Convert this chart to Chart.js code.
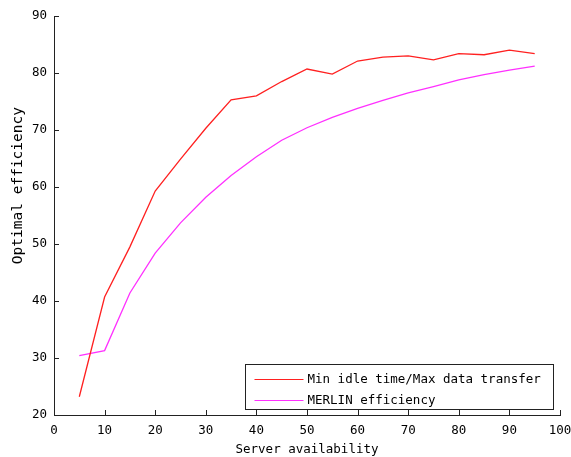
<!DOCTYPE html>
<html><head><meta charset="utf-8">
<script src="https://cdn.jsdelivr.net/npm/chart.js@4/dist/chart.umd.min.js"></script>
<style>html,body{margin:0;padding:0;background:#fff}#wrap{width:571px;height:457px}</style>
</head><body><div id="wrap"><canvas id="c"></canvas></div>
<script>
const xValues = [5,10,15,20,25,30,35,40,45,50,55,60,65,70,75,80,85,90,95];
const minIdle = [23.2,40.7,49.5,59.3,64.9,70.3,75.3,76.0,78.5,80.7,79.8,82.1,82.8,83.0,82.3,83.4,83.2,84.0,83.4];
const merlin  = [30.4,31.3,41.4,48.4,53.7,58.2,62.0,65.3,68.2,70.4,72.2,73.8,75.2,76.5,77.6,78.8,79.7,80.5,81.2];
const seriesNames = ['Min idle time/Max data transfer','MERLIN efficiency'];
const xTitle = 'Server availability';
const yTitle = 'Optimal efficiency';

const FONT = "'DejaVu Sans Mono', monospace";
const toPts = ys => xValues.map((x,i)=>({x:x,y:ys[i]}));

const innerTicks = {
  id:'innerTicks',
  afterDraw(chart){
    const ctx = chart.ctx, a = chart.chartArea;
    const xs = chart.scales.x, ys = chart.scales.y;
    ctx.save();
    ctx.strokeStyle = '#222'; ctx.lineWidth = 1;
    ctx.beginPath();
    xs.ticks.forEach(t=>{ const p = Math.round(xs.getPixelForValue(t.value))+0.5;
      ctx.moveTo(p, a.bottom); ctx.lineTo(p, a.bottom-5); });
    ys.ticks.forEach(t=>{ const p = Math.round(ys.getPixelForValue(t.value))+0.5;
      ctx.moveTo(a.left, p); ctx.lineTo(a.left+5, p); });
    ctx.stroke();
    // y axis title
    ctx.save();
    ctx.translate(18, a.top + (a.bottom - a.top) * 0.425);
    ctx.rotate(-Math.PI/2);
    ctx.font = "14.5px " + FONT; ctx.fillStyle = '#000';
    ctx.textAlign = 'center'; ctx.textBaseline = 'middle';
    ctx.fillText(yTitle, 0, 0);
    ctx.restore();
    // legend
    const ds = chart.data.datasets;
    ctx.font = "12.5px " + FONT;
    const tw = Math.max(...ds.map(d=>ctx.measureText(d.label).width));
    const bw = Math.round(tw + 75), bh = 45;
    const bx = Math.round(a.right - 7 - bw) + 0.5, by = Math.round(a.bottom - 6 - bh) + 0.5;
    ctx.fillStyle = '#fff'; ctx.fillRect(bx, by, bw, bh);
    ctx.strokeStyle = '#222'; ctx.strokeRect(bx, by, bw, bh);
    ds.forEach((d,i)=>{
      const yy = Math.round(by + 14 + i*21) + 0.5;
      ctx.strokeStyle = d.borderColor; ctx.lineWidth = 1.2; ctx.beginPath();
      ctx.moveTo(bx+9, yy); ctx.lineTo(bx+58, yy); ctx.stroke();
      ctx.fillStyle = '#000'; ctx.textBaseline = 'middle'; ctx.textAlign = 'left';
      ctx.fillText(d.label, bx+62, yy);
    });
    ctx.restore();
  }
};

new Chart(document.getElementById('c'), {
  type:'line',
  data:{datasets:[
    {label:seriesNames[0], data:toPts(minIdle), borderColor:'#ff2020', borderWidth:1.3, pointRadius:0, tension:0, fill:false},
    {label:seriesNames[1], data:toPts(merlin), borderColor:'#ff30ff', borderWidth:1.3, pointRadius:0, tension:0, fill:false}
  ]},
  options:{
    responsive:true, maintainAspectRatio:false, animation:false,
    layout:{padding:{top:16,right:11,left:0,bottom:0}},
    plugins:{legend:{display:false}, tooltip:{enabled:false}},
    scales:{
      x:{type:'linear', min:0, max:100,
        ticks:{stepSize:10, color:'#000', font:{family:FONT,size:12.5}, padding:8, maxRotation:0},
        grid:{drawOnChartArea:false, drawTicks:false},
        border:{display:true,color:'#222',width:1},
        title:{display:true,text:xTitle,color:'#000',font:{family:FONT,size:12.5},padding:{top:4,bottom:0}},
        afterFit(s){ s.height = 42; s.paddingLeft = 0; s.paddingRight = 0; }
      },
      y:{type:'linear', min:20, max:90,
        ticks:{stepSize:10, color:'#000', font:{family:FONT,size:12.5}, padding:7},
        grid:{drawOnChartArea:false, drawTicks:false},
        border:{display:true,color:'#222',width:1},
        title:{display:false},
        afterFit(s){ s.width = 54; s.paddingTop = 0; s.paddingBottom = 0; }
      }
    }
  },
  plugins:[innerTicks]
});
</script></body></html>
